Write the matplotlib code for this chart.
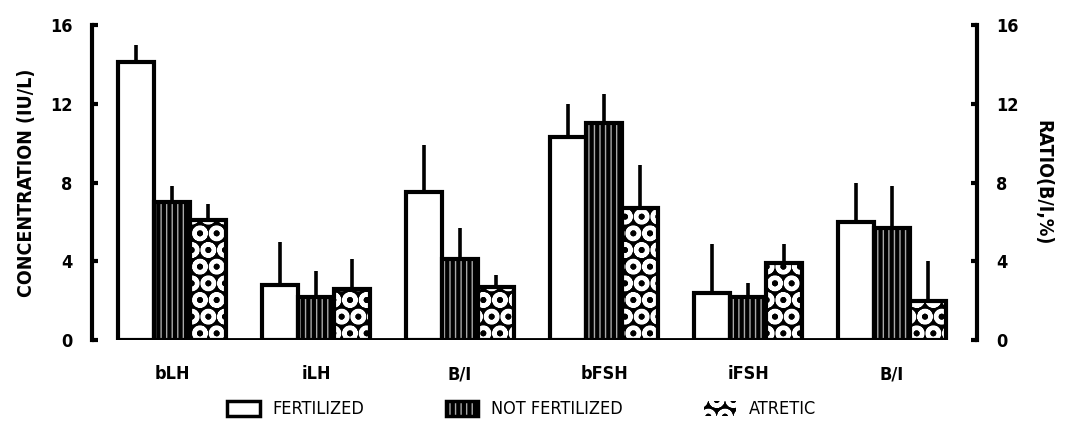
import numpy as np
import matplotlib
matplotlib.use("Agg")
from matplotlib import pyplot as plt
from matplotlib.patches import Patch

plt.rcParams['font.family'] = ['DejaVu Sans']
plt.rcParams['font.stretch'] = 'condensed'
plt.rcParams['hatch.linewidth'] = 3.0

categories = ['bLH', 'iLH', 'B/I', 'bFSH', 'iFSH', 'B/I']
series = ['FERTILIZED', 'NOT FERTILIZED', 'ATRETIC']

fertilized = [14.1, 2.8, 7.5, 10.3, 2.4, 6.0]
fertilized_err = [0.9, 2.2, 2.4, 1.7, 2.5, 2.0]
not_fertilized = [7.0, 2.2, 4.1, 11.0, 2.2, 5.7]
not_fertilized_err = [0.8, 1.3, 1.6, 1.5, 0.7, 2.1]
atretic = [6.1, 2.6, 2.7, 6.7, 3.9, 2.0]
atretic_err = [0.8, 1.5, 0.6, 2.2, 1.0, 2.0]

yticks = [0, 4, 8, 12, 16]

fig = plt.figure(figsize=(10.65, 4.24), dpi=100)
ax = fig.add_axes([0.0864, 0.198, 0.831, 0.743])

x = np.arange(len(categories))
w = 0.25
lw = 3.0

means = [fertilized, not_fertilized, atretic]
errs = [fertilized_err, not_fertilized_err, atretic_err]
offsets = [-w, 0, w]

# fertilized: plain white bars
ax.bar(x + offsets[0], fertilized, w, color='white', edgecolor='black', linewidth=lw, zorder=3)
# not fertilized: dense vertical stripes
ax.bar(x + offsets[1], not_fertilized, w, color='#a8a8a8', edgecolor='black', linewidth=lw,
       hatch='|||', zorder=3)
# atretic: white rings on black, outline drawn on top
ax.bar(x + offsets[2], atretic, w, color='black', edgecolor='white', linewidth=0,
       hatch='O', zorder=3)
ax.bar(x + offsets[2], atretic, w, color='none', edgecolor='black', linewidth=lw, zorder=4)

for m, e, off in zip(means, errs, offsets):
    ax.errorbar(x + off, m, yerr=[np.zeros(len(m)), e], fmt='none', ecolor='black',
                elinewidth=2.6, capsize=0, zorder=2)

# thick baseline under the bars
ax.hlines(0, x[0] - 1.5 * w, x[-1] + 1.5 * w, color='black', linewidth=3.5, zorder=5)

ax.set_xlim(-0.556, 5.59)
ax.set_ylim(0, 16)
ax.set_yticks(yticks)
ax.set_xticks(x)
ax.set_xticklabels(categories, fontsize=13, fontweight='bold')
ax.tick_params(axis='x', length=0, pad=18)
ax.tick_params(axis='y', direction='in', length=4, width=3, labelsize=13, pad=14)
for t in ax.get_yticklabels():
    t.set_fontweight('bold')

for s in ['top', 'bottom', 'right']:
    ax.spines[s].set_visible(False)
ax.spines['left'].set_linewidth(3)

ax.set_ylabel('CONCENTRATION (IU/L)', fontsize=14, fontweight='heavy', labelpad=10)

ax2 = ax.twinx()
ax2.set_ylim(0, 16)
ax2.set_yticks(yticks)
ax2.tick_params(axis='y', direction='in', length=4, width=3, labelsize=13, pad=14)
for t in ax2.get_yticklabels():
    t.set_fontweight('bold')
for s in ['top', 'bottom', 'left']:
    ax2.spines[s].set_visible(False)
ax2.spines['right'].set_linewidth(3)
ax2.set_ylabel('RATIO(B/I,%)', fontsize=14, fontweight='heavy', rotation=-90, labelpad=24)

handles = [
    Patch(facecolor='white', edgecolor='black', linewidth=2.5),
    Patch(facecolor='#a8a8a8', edgecolor='black', linewidth=2.5, hatch='|||'),
    Patch(facecolor='black', edgecolor='white', linewidth=0, hatch='O'),
]
fig.legend(handles, series, loc='lower center', bbox_to_anchor=(0.49, -0.025), ncol=3,
           frameon=False, fontsize=13, handlelength=1.8, handleheight=0.9,
           columnspacing=4.5, handletextpad=0.7)

fig.savefig('out.png', dpi=100)
